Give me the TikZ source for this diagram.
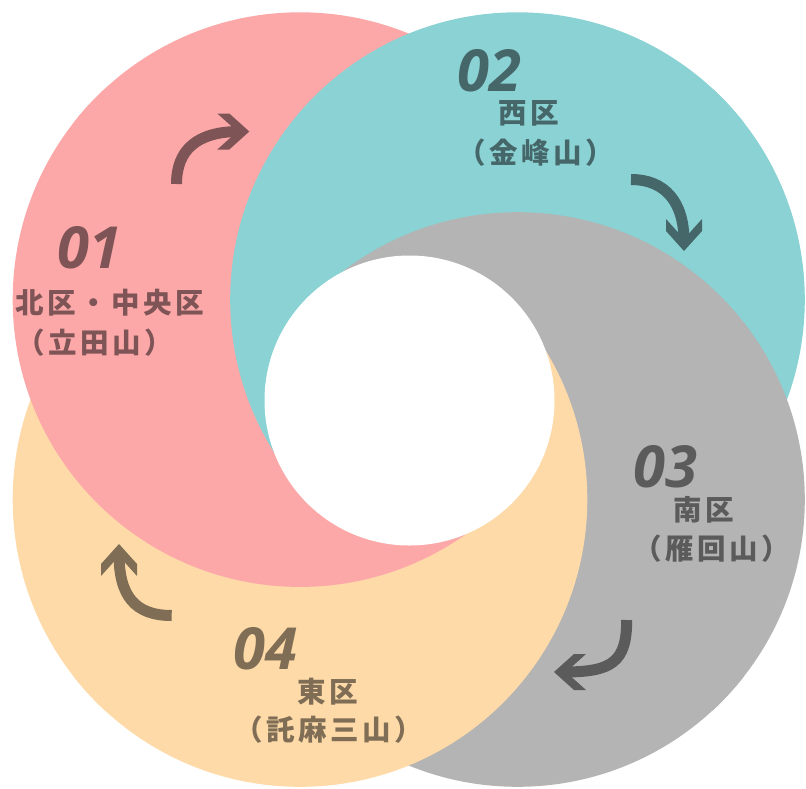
\documentclass[tikz,border=0pt]{standalone}
\usepackage{fontspec}
\usetikzlibrary{calc}
\newfontfamily\numfont{Open Sans}
\newfontfamily\jpfont{Noto Sans CJK JP}[LetterSpace=12]
\definecolor{cpink}{HTML}{FCA8A8}
\definecolor{cteal}{HTML}{8AD2D4}
\definecolor{cgray}{HTML}{B4B4B4}
\definecolor{cpeach}{HTML}{FDDAA8}
\definecolor{tpink}{HTML}{7F5456}
\definecolor{tteal}{HTML}{466769}
\definecolor{tgray}{HTML}{5B5B5B}
\definecolor{tpeach}{HTML}{7F6D55}
\newcommand\drawPink{\fill[cpink] (cP) circle[radius=287.3];}
\newcommand\drawTeal{\fill[cteal] (cT) circle[radius=287.3];}
\newcommand\drawGray{\fill[cgray] (cG) circle[radius=287.3];}
\newcommand\drawPeach{\fill[cpeach] (cO) circle[radius=287.3];}
\newcommand\sectorfill[3]{%
  \begin{scope}
    \clip (cC) -- (#1) -- (#2) -- cycle;
    \begin{scope}[transparency group]
      #3
    \end{scope}
  \end{scope}}
\newcommand\arrowhead[3]{\fill[#1,shift={(#2)},rotate=#3] (0,0) -- (-20,18) -- (-32,18) -- (-12,0) -- (-32,-18) -- (-20,-18) -- cycle;}
\tikzset{
  num/.style={font=\numfont\bfseries\itshape\fontsize{58}{58}\selectfont, inner sep=0pt, anchor=base},
  jp/.style={font=\jpfont\bfseries\fontsize{28.5}{34}\selectfont, inner sep=0pt, anchor=base},
  shaft/.style={line width=11pt}
}
\begin{document}
\begin{tikzpicture}[x=1pt,y=-1pt]
\useasboundingbox (0,0) rectangle (806,788);
\fill[white] (0,0) rectangle (806,788);
\coordinate (cC) at (408.75,399.5);
\coordinate (cP) at (300,299.6);
\coordinate (cT) at (517.5,299.6);
\coordinate (cG) at (517.5,499.5);
\coordinate (cO) at (300,499.5);
% rays pointing away from each centre, slightly rotated
\coordinate (rPm) at ($(cC)!-6!-3:(cP)$);
\coordinate (rPp) at ($(cC)!-6!3:(cP)$);
\coordinate (rTm) at ($(cC)!-6!-3:(cT)$);
\coordinate (rTp) at ($(cC)!-6!3:(cT)$);
\coordinate (rGm) at ($(cC)!-6!-3:(cG)$);
\coordinate (rGp) at ($(cC)!-6!3:(cG)$);
\coordinate (rOm) at ($(cC)!-6!-3:(cO)$);
\coordinate (rOp) at ($(cC)!-6!3:(cO)$);
% right, top, left, bottom sectors
\sectorfill{rPm}{rOp}{\drawPink\drawTeal\drawGray\drawPeach}
\sectorfill{rOm}{rGp}{\drawPeach\drawPink\drawTeal\drawGray}
\sectorfill{rGm}{rTp}{\drawGray\drawPeach\drawPink\drawTeal}
\sectorfill{rTm}{rPp}{\drawTeal\drawGray\drawPeach\drawPink}
% white centre
\fill[white] (409.5,400.5) circle[radius=145];

% arrows
\coordinate (a1s) at (176.5,184);
\coordinate (a1e) at (239.3,131.5);
\coordinate (a1t) at (249.3,131.5);
\draw[shaft,tpink] (a1s) .. controls (176.5,150) and (197,131.5) .. (a1e);
\arrowhead{tpink}{a1t}{0}

\coordinate (a2s) at (631,179.5);
\coordinate (a2e) at (684,241);
\coordinate (a2t) at (684,251);
\draw[shaft,tteal] (a2s) .. controls (665,179.5) and (684,202) .. (a2e);
\arrowhead{tteal}{a2t}{-90}

\coordinate (a3s) at (626.7,620);
\coordinate (a3e) at (564,672);
\coordinate (a3t) at (554,672);
\draw[shaft,tgray] (a3s) .. controls (626.7,662) and (612,672) .. (a3e);
\arrowhead{tgray}{a3t}{180}

\coordinate (a4s) at (171.7,615.5);
\coordinate (a4e) at (119,554);
\coordinate (a4t) at (119,544);
\draw[shaft,tpeach] (a4s) .. controls (135,615.5) and (119,596) .. (a4e);
\arrowhead{tpeach}{a4t}{90}

% texts
\node[num,text=tpink] (n1) at (89,268) {01};
\node[jp,text=tpink] (l1a) at (110,313) {北区・中央区};
\node[jp,text=tpink] (l1b) at (95,353) {（立田山）};

\node[num,text=tteal] (n2) at (489.5,91) {02};
\node[jp,text=tteal] (l2a) at (529,123) {西区};
\node[jp,text=tteal] (l2b) at (535.5,163) {（金峰山）};

\node[num,text=tgray] (n3) at (665.5,487) {03};
\node[jp,text=tgray] (l3a) at (704,520) {南区};
\node[jp,text=tgray] (l3b) at (711.5,559) {（雁回山）};

\node[num,text=tpeach] (n4) at (265,669) {04};
\node[jp,text=tpeach] (l4a) at (327.5,702) {東区};
\node[jp,text=tpeach] (l4b) at (329,740) {（託麻三山）};
\end{tikzpicture}
\end{document}
